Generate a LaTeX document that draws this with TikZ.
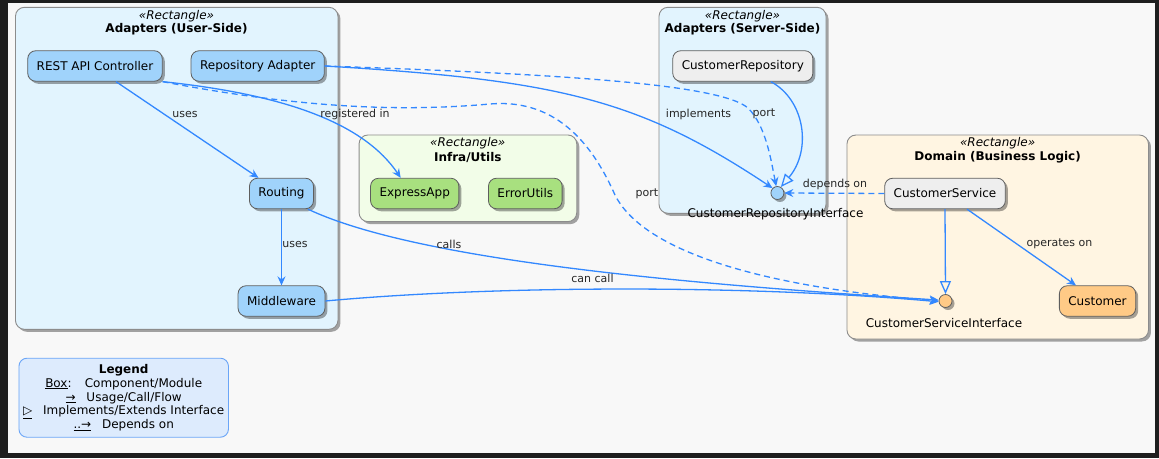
\documentclass[tikz,border=0pt]{standalone}
\usepackage{fontspec}
\setmainfont{DejaVu Sans}
\usetikzlibrary{arrows.meta,shadows}
\definecolor{framec}{HTML}{1E1E1E}
\definecolor{bgc}{HTML}{F8F8F8}
\definecolor{contblue}{HTML}{E2F4FE}
\definecolor{contgreen}{HTML}{F2FDE8}
\definecolor{contorange}{HTML}{FFF5E2}
\definecolor{compblue}{HTML}{A0D3FB}
\definecolor{compgreen}{HTML}{A8E07F}
\definecolor{compgray}{HTML}{EEEEEE}
\definecolor{comporange}{HTML}{FFCA86}
\definecolor{contborder}{HTML}{8C8C8C}
\definecolor{compborder}{HTML}{5E5E5E}
\definecolor{lnblue}{HTML}{3388FF}
\definecolor{legendfill}{HTML}{DDEBFD}
\definecolor{legendborder}{HTML}{6AA5F7}
\tikzset{
  shadowed/.style={drop shadow={shadow xshift=2.5pt,shadow yshift=-2.5pt,fill=black,opacity=0.35}},
  container/.style={draw=contborder,line width=0.9pt,rounded corners=9pt,inner sep=0pt,shadowed},
  comp/.style={draw=compborder,line width=0.8pt,rounded corners=8pt,minimum height=30.5pt,inner xsep=9pt,inner ysep=0pt,font=\fontsize{12}{14}\selectfont,shadowed},
  iface/.style={circle,draw=compborder,line width=0.8pt,minimum size=13pt,inner sep=0pt,shadowed},
  ilabel/.style={font=\fontsize{12}{14}\selectfont,inner sep=1pt},
  stereo/.style={font=\fontsize{12}{14}\selectfont\itshape,inner sep=1pt},
  ctitle/.style={font=\fontsize{12}{14}\selectfont\bfseries,inner sep=1pt},
  elabel/.style={font=\fontsize{11}{13}\selectfont,inner sep=1pt,text=black!85},
  flow/.style={draw=lnblue,line width=1.3pt,-{Stealth[length=9pt,width=8pt,inset=3pt]}},
  dep/.style={flow,dash pattern=on 6pt off 4pt},
  impl/.style={draw=lnblue,line width=1.3pt,-{Triangle[open,length=13pt,width=11pt]}},
  legendbox/.style={draw=legendborder,line width=0.9pt,fill=legendfill,rounded corners=8pt,align=center,font=\fontsize{12}{13.9}\selectfont,inner sep=0pt}
}
\begin{document}
\begin{tikzpicture}[x=1pt,y=-1pt]
\useasboundingbox (0,0) rectangle (1159,458);
\fill[framec] (0,0) rectangle (1159,458);
\fill[bgc] (8,2.5) rectangle (1155,452.5);

% containers
\node[container,fill=contblue,minimum width=322.5pt,minimum height=322pt] (userside) at (176.7,168.3) {};
\node[container,fill=contblue,minimum width=167pt,minimum height=206pt] (serverside) at (742.5,110.3) {};
\node[container,fill=contgreen,minimum width=217.7pt,minimum height=86.7pt] (infra) at (467.9,178.3) {};
\node[container,fill=contorange,minimum width=301.5pt,minimum height=204pt] (domain) at (997.7,237) {};

% container titles
\node[stereo] (userst) at (176.5,15.7) {«Rectangle»};
\node[ctitle] (usert) at (176.5,29.5) {Adapters (User-Side)};
\node[stereo] (serverst) at (742.5,15.7) {«Rectangle»};
\node[ctitle] (servert) at (742.5,29.5) {Adapters (Server-Side)};
\node[stereo] (infrast) at (467.8,143.3) {«Rectangle»};
\node[ctitle] (infrat) at (467.8,157.3) {Infra/Utils};
\node[stereo] (domainst) at (997.6,143.3) {«Rectangle»};
\node[ctitle] (domaint) at (997.6,157.3) {Domain (Business Logic)};

% components
\node[comp,fill=compblue] (rest) at (95,66) {REST API Controller};
\node[comp,fill=compblue] (repoad) at (257.7,66) {Repository Adapter};
\node[comp,fill=compblue] (routing) at (281.5,193.5) {Routing};
\node[comp,fill=compblue] (middleware) at (281.5,301) {Middleware};
\node[comp,fill=compgreen] (express) at (414.7,193.5) {ExpressApp};
\node[comp,fill=compgreen] (errorutils) at (525.3,193.5) {ErrorUtils};
\node[comp,fill=compgray] (custrepo) at (742.8,66) {CustomerRepository};
\node[comp,fill=compgray] (custserv) at (945,193.5) {CustomerService};
\node[comp,fill=comporange] (customer) at (1097.5,301) {Customer};

% interfaces
\node[iface,fill=compblue] (cri) at (777.4,193) {};
\node[iface,fill=comporange] (csi) at (945.5,301) {};
\node[ilabel] (crilabel) at (775.5,214.5) {CustomerRepositoryInterface};
\node[ilabel] (csilabel) at (944,322.7) {CustomerServiceInterface};

% edges
\draw[flow] ([xshift=21pt]rest.south) -- ([xshift=-23pt]routing.north);
\draw[flow] (rest.south east) .. controls (290,95) and (365,125) .. ([xshift=-14pt]express.north);
\draw[dep] (rest.south east) .. controls (300,108) and (400,112) .. (490,104)
   .. controls (560,98) and (595,150) .. (615,195)
   .. controls (640,245) and (740,285) .. (csi.west);
\draw[flow] (repoad.east) .. controls (560,80) and (640,100) .. (cri.135);
\draw[dep] (repoad.east) .. controls (560,74) and (720,84) .. (748,108)
   .. controls (766,126) and (771,160) .. (cri.100);
\draw[impl] ([xshift=28pt]custrepo.south) .. controls (805,100) and (812,150) .. (cri.60);
\draw[dep] (custserv.west) -- (cri.east);
\draw[impl] (custserv.south) -- (csi.north);
\draw[flow] ([xshift=22pt]custserv.south) -- ([xshift=-21.5pt]customer.north);
\draw[flow] (routing.south) -- (middleware.north);
\draw[flow] ([xshift=-6pt]routing.south east) .. controls (420,262) and (700,285) .. (csi.172);
\draw[flow] (middleware.east) .. controls (500,285) and (750,285) .. (csi.186);

% edge labels
\node[elabel] (l1) at (185,114) {uses};
\node[elabel] (l2) at (355,114) {registered in};
\node[elabel] (l3) at (698.5,114) {implements};
\node[elabel] (l4) at (764,114) {port};
\node[elabel] (l5) at (647,194) {port};
\node[elabel] (l6) at (835,184) {depends on};
\node[elabel] (l7) at (1059.5,244) {operates on};
\node[elabel] (l8) at (295,244) {uses};
\node[elabel] (l9) at (449,244) {calls};
\node[elabel] (l10) at (592.5,278) {can call};

% legend
\node[legendbox,minimum width=209.5pt,minimum height=79pt] (legend) at (123.7,397.7)
 {\textbf{Legend}\\
  \underline{Box}:\hspace{1.1em}Component/Module\\
  \underline{→}\hspace{0.9em}Usage/Call/Flow\\
  \underline{▷}\hspace{0.9em}Implements/Extends Interface\\
  \underline{..→}\hspace{0.9em}Depends on};
\end{tikzpicture}
\end{document}
